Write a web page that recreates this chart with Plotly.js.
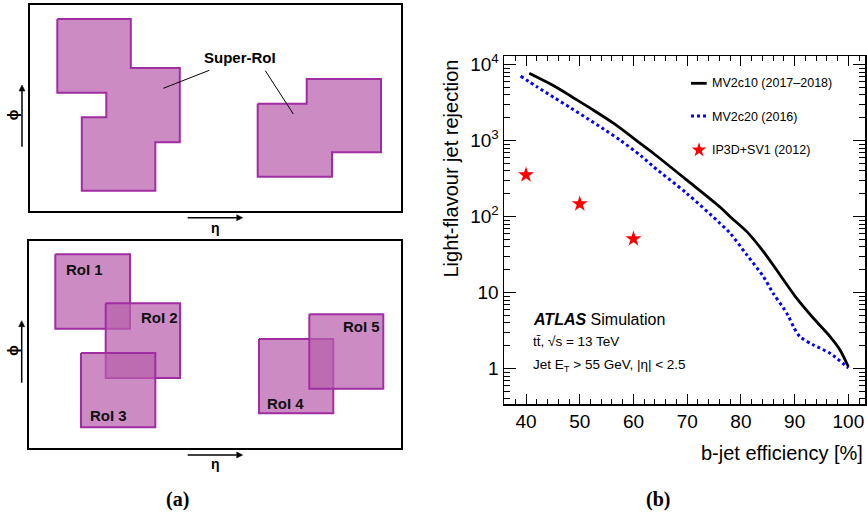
<!DOCTYPE html>
<html><head><meta charset="utf-8">
<script src="https://cdn.plot.ly/plotly-3.0.1.min.js"></script>
<style>body{margin:0;background:#fff}#chart{width:867px;height:515px}</style>
</head><body><div id="chart"></div>
<script>
const W = 867, H = 515;
const FONT = 'Liberation Sans, Arial, Helvetica, sans-serif';

// ---- Data: light-flavour jet rejection vs b-jet efficiency ----
const effMV2c10 = [40.6, 45.8, 48.3, 52.1, 56.4, 61.7, 63.7, 69.9, 76.1, 78.0, 81.1, 84.2, 87.3, 90.4, 93.5, 96.6, 98.45, 100];
const rejMV2c10 = [7700, 4980, 3870, 2640, 1675, 872, 683, 304, 134, 100, 63.5, 34.6, 17.1, 8.4, 4.6, 2.64, 1.76, 1.06];
const effMV2c20 = [39.0, 42.1, 45.2, 48.3, 51.4, 54.5, 57.6, 61.4, 63.7, 69.9, 76.1, 78.0, 81.1, 84.2, 86.0, 87.9, 88.85, 89.8, 91.0, 93.5, 96.6, 100];
const rejMV2c20 = [7100, 5070, 3700, 2700, 1960, 1413, 1005, 631, 455, 203, 81.8, 60.5, 31.4, 16.2, 9.8, 6.3, 4.9, 3.55, 2.63, 2.05, 1.59, 1.02];
const effIP3D = [40, 50, 60];
const rejIP3D = [354, 147, 51];
const yTickVals = [1, 10, 100, 1000, 10000];
const yTickText = ['1', '10', '10<sup>2</sup>', '10<sup>3</sup>', '10<sup>4</sup>'];
const xTickVals = [40, 50, 60, 70, 80, 90, 100];

// ---- Diagram (a): regions in the eta-phi plane (panel units) ----
const superA_eta = [57.3, 130.8, 130.8, 179.8, 179.8, 155.3, 155.3, 81.8, 81.8, 106.3, 106.3, 57.3, 57.3];
const superA_phi = [19, 19, 68, 68, 142.3, 142.3, 190.7, 190.7, 117.3, 117.3, 92.7, 92.7, 19];
const superB_eta = [257.7, 306.7, 306.7, 381, 381, 332, 332, 257.7, 257.7];
const superB_phi = [103.7, 103.7, 79, 79, 152.3, 152.3, 176.7, 176.7, 103.7];
const roiNames = ['RoI 1', 'RoI 2', 'RoI 3', 'RoI 4', 'RoI 5'];
const roiEta0 = [55.3, 105.7, 81, 259, 309.3];
const roiEta1 = [130, 180, 155.3, 333.3, 383.3];
const roiPhi0 = [254.3, 303.3, 353, 339, 314.3];
const roiPhi1 = [328.7, 378, 427.3, 413.3, 388.7];
const roiLabelEta = [64, 138.7, 87.7, 265.3, 340.7];
const roiLabelPhi = [269.3, 317.3, 415.3, 403, 326];

const FILL = 'rgba(185,96,172,0.72)';
const EDGE = 'rgb(160,45,162)';

const traces = [];
[[superA_eta, superA_phi], [superB_eta, superB_phi]].forEach(([ex, ph]) => {
  traces.push({type: 'scatter', mode: 'lines', x: ex, y: ph, xaxis: 'x2', yaxis: 'y2',
    fill: 'toself', fillcolor: FILL, line: {color: EDGE, width: 2}, hoverinfo: 'skip'});
});
roiNames.forEach((n, i) => {
  traces.push({type: 'scatter', mode: 'lines', xaxis: 'x3', yaxis: 'y3',
    x: [roiEta0[i], roiEta1[i], roiEta1[i], roiEta0[i], roiEta0[i]],
    y: [roiPhi0[i], roiPhi0[i], roiPhi1[i], roiPhi1[i], roiPhi0[i]],
    fill: 'toself', fillcolor: FILL, line: {color: EDGE, width: 2}, hoverinfo: 'skip'});
});
traces.push({type: 'scatter', mode: 'lines', x: effMV2c20, y: rejMV2c20, xaxis: 'x', yaxis: 'y',
  line: {color: 'rgb(0,0,255)', width: 3, dash: 'dot', shape: 'spline', smoothing: 0.8}});
traces.push({type: 'scatter', mode: 'lines', x: effMV2c10, y: rejMV2c10, xaxis: 'x', yaxis: 'y',
  line: {color: 'black', width: 2.8, shape: 'spline', smoothing: 0.8}});
traces.push({type: 'scatter', mode: 'markers', x: effIP3D, y: rejIP3D, xaxis: 'x', yaxis: 'y',
  marker: {symbol: 'star', size: 12, color: 'rgb(255,0,0)', line: {width: 0}}});
traces.push({type: 'scatter', mode: 'markers', x: [699], y: [150], xaxis: 'x4', yaxis: 'y4',
  marker: {symbol: 'star', size: 11, color: 'rgb(255,0,0)', line: {width: 0}}});

const px = v => v / W, py = v => 1 - v / H;
function T(x, y, text, size, opts) {
  return Object.assign({xref: 'paper', yref: 'paper', x: px(x), y: py(y), text, showarrow: false,
    xanchor: 'center', yanchor: 'middle', font: {family: FONT, size, color: 'black'}}, opts || {});
}
const SERIF = {family: 'Liberation Serif, Times New Roman, serif', size: 20, color: 'black'};

const annotations = [
  T(240, 57.3, '<b>Super-RoI</b>', 15),
  T(13.3, 115, '<b>ϕ</b>', 14, {textangle: -90}),
  T(215, 227.5, '<b>η</b>', 14),
  T(13, 350.7, '<b>ϕ</b>', 14, {textangle: -90}),
  T(215, 464, '<b>η</b>', 14),
  T(177, 499, '<b>(a)</b>', 20, {font: SERIF}),
  T(658, 499, '<b>(b)</b>', 20, {font: SERIF}),
  T(451, 168.5, 'Light-flavour jet rejection', 20, {textangle: -90}),
  T(865, 453, 'b-jet efficiency [%]', 20, {xanchor: 'right'}),
  T(709.5, 83, 'MV2c10 (2017–2018)', 12.5, {xanchor: 'left'}),
  T(709.5, 116.5, 'MV2c20 (2016)', 12.5, {xanchor: 'left'}),
  T(709.5, 150, 'IP3D+SV1 (2012)', 12.5, {xanchor: 'left'}),
  T(531, 319.3, '<b><i>ATLAS</i></b> Simulation', 16, {xanchor: 'left'}),
  T(531, 341.7, 'tt̄, √s = 13 TeV', 13.5, {xanchor: 'left'}),
  T(531, 365, 'Jet E<sub>T</sub> &gt; 55 GeV, |η| &lt; 2.5', 13.5, {xanchor: 'left'})
];
roiNames.forEach((n, i) => annotations.push({xref: 'x3', yref: 'y3', x: roiLabelEta[i], y: roiLabelPhi[i],
  text: '<b>' + n + '</b>', showarrow: false, xanchor: 'left', yanchor: 'middle',
  font: {family: FONT, size: 15, color: '#111'}}));

function arrow(tx, ty, hx, hy) {
  const L = 6, Wd = 3;
  const dx = hx - tx, dy = hy - ty, len = Math.hypot(dx, dy), ux = dx / len, uy = dy / len;
  const bx = hx - ux * L, by = hy - uy * L;
  return [
    {type: 'line', xref: 'x4', yref: 'y4', x0: tx, y0: ty, x1: bx, y1: by, line: {color: 'black', width: 1.5}},
    {type: 'path', xref: 'x4', yref: 'y4',
      path: `M ${hx},${hy} L ${bx - uy * Wd},${by + ux * Wd} L ${bx + uy * Wd},${by - ux * Wd} Z`,
      fillcolor: 'black', line: {color: 'black', width: 0.5}}
  ];
}

const shapes = [
  {type: 'line', xref: 'x2', yref: 'y2', x0: 209.3, y0: 70.3, x1: 163.3, y1: 88.3, line: {color: 'black', width: 1}},
  {type: 'line', xref: 'x2', yref: 'y2', x0: 265.3, y0: 70.7, x1: 293.3, y1: 114, line: {color: 'black', width: 1}},
  {type: 'line', xref: 'x4', yref: 'y4', x0: 691, x1: 706.7, y0: 83.3, y1: 83.3, line: {color: 'black', width: 2.8}},
  {type: 'line', xref: 'x4', yref: 'y4', x0: 691, x1: 708, y0: 116, y1: 116, line: {color: 'rgb(0,0,255)', width: 3, dash: 'dot'}},
  ...arrow(22, 146.7, 22, 85),
  ...arrow(187.7, 217.7, 242.7, 217.7),
  ...arrow(21.7, 382.7, 21.7, 320.7),
  ...arrow(187.7, 455, 242.7, 455)
];

const boxAxis = (d0, d1, r) => ({domain: [d0, d1], range: r, showline: true, mirror: true, linecolor: 'black',
  linewidth: 2, showgrid: false, zeroline: false, showticklabels: false, ticks: '', fixedrange: true});

const layout = {
  width: W, height: H, margin: {l: 0, r: 0, t: 0, b: 0}, showlegend: false,
  paper_bgcolor: 'white', plot_bgcolor: 'rgba(0,0,0,0)', font: {family: FONT, color: 'black'},
  xaxis: {domain: [px(504), px(865)], range: [35.9, 103.1], anchor: 'y', tickmode: 'array', tickvals: xTickVals,
    ticks: 'inside', ticklen: 10, tickwidth: 1, tickcolor: 'black', mirror: 'allticks', showline: true,
    linecolor: 'black', linewidth: 1.5, showgrid: false, zeroline: false,
    minor: {tickmode: 'linear', tick0: 0, dtick: 2, ticks: 'inside', ticklen: 5, tickcolor: 'black', tickwidth: 1, showgrid: false},
    tickfont: {family: FONT, size: 19, color: 'black'}},
  yaxis: {domain: [py(404), py(56)], type: 'log', range: [-0.465, 4.114], anchor: 'x', tickmode: 'array',
    tickvals: yTickVals, ticktext: yTickText, ticks: 'inside', ticklen: 12, tickwidth: 1, tickcolor: 'black',
    mirror: 'allticks', showline: true, linecolor: 'black', linewidth: 1.5, showgrid: false, zeroline: false,
    minor: {tickmode: 'linear', dtick: 'D1', ticks: 'inside', ticklen: 6, tickcolor: 'black', tickwidth: 1, showgrid: false},
    tickfont: {family: FONT, size: 19, color: 'black'}},
  xaxis2: Object.assign(boxAxis(px(29.7), px(401), [29.7, 401]), {anchor: 'y2'}),
  yaxis2: Object.assign(boxAxis(py(210.7), py(5.3), [210.7, 5.3]), {anchor: 'x2'}),
  xaxis3: Object.assign(boxAxis(px(29), px(401), [29, 401]), {anchor: 'y3'}),
  yaxis3: Object.assign(boxAxis(py(448.3), py(241), [448.3, 241]), {anchor: 'x3'}),
  xaxis4: {domain: [0, 1], range: [0, W], visible: false, anchor: 'y4', fixedrange: true},
  yaxis4: {domain: [0, 1], range: [H, 0], visible: false, anchor: 'x4', fixedrange: true},
  annotations, shapes
};

Plotly.newPlot('chart', traces, layout, {displayModeBar: false, staticPlot: true});
</script></body></html>
